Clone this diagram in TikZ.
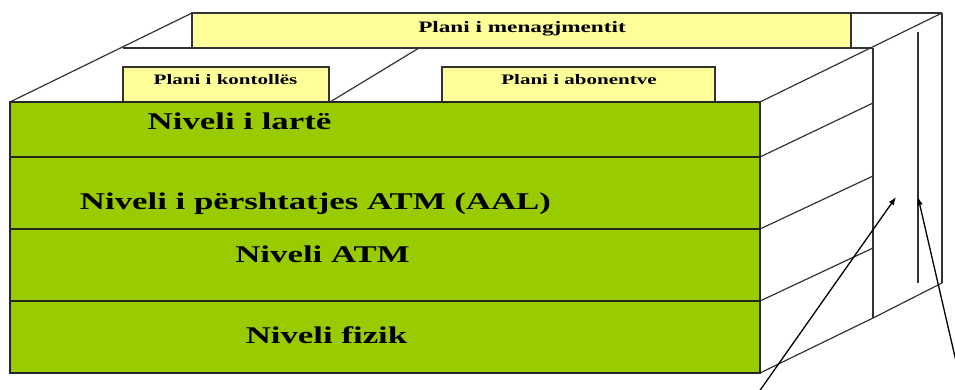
\documentclass[tikz,border=0pt]{standalone}
\usepackage{fontspec}
\setmainfont{Liberation Serif}
\usetikzlibrary{arrows.meta}

\definecolor{layergreen}{HTML}{99CC00}
\definecolor{planyellow}{HTML}{FFFF99}
\definecolor{edgegray}{HTML}{333333}

\tikzset{
  edge/.style={draw=edgegray, line width=1.2pt},
  planbox/.style={fill=planyellow, draw=edgegray, line width=1.2pt},
  layerbox/.style={fill=layergreen, draw=black!85, line width=1.4pt},
  bigtext/.style={anchor=base, inner sep=0pt, font=\bfseries\fontsize{24}{24}\selectfont},
  smalltext/.style={anchor=base, inner sep=0pt, font=\bfseries\fontsize{14.5}{15}\selectfont},
  pointer/.style={draw=black, line width=1.3pt, -{Latex[length=8pt,width=6pt]}}
}
\newcommand{\wide}[1]{\scalebox{1.45}[1]{#1}}

\begin{document}
\begin{tikzpicture}[x=1pt,y=-1pt]
\useasboundingbox (0,0) rectangle (955,389);
\clip (0,0) rectangle (955,389);

% management plane, back row
\fill[planyellow] (192,13) rectangle (851,48);
\draw[edge] (192,48) -- (192,13) -- (942,13);
\draw[edge] (851,13) -- (851,48);
\draw[edge] (123,48) -- (872,48);
\node[smalltext, font=\bfseries\fontsize{16}{16}\selectfont] (mgmt) at (522,32) {\wide{Plani i menagjmentit}};

% control and user planes, front row
\draw[planbox] (123,102) rectangle (329,67);
\node[smalltext] (ctrl) at (225.5,84) {\wide{Plani i kontollës}};
\draw[planbox] (442,102) rectangle (715,67);
\node[smalltext] (user) at (579,84) {\wide{Plani i abonentve}};

% top face diagonals
\draw[edge] (10,102) -- (192,13);
\draw[edge] (330,102) -- (419,48);
\draw[edge] (760,102) -- (942,13);

% right side face
\draw[edge] (873,48) -- (873,318);
\draw[edge] (942,13) -- (942,283);
\draw[edge] (918,32) -- (918,283);
\draw[edge] (760,157) -- (873,103);
\draw[edge] (760,229) -- (873,176);
\draw[edge] (760,301) -- (873,248);
\draw[edge] (760,373) -- (873,318) -- (942,283);

% front face: the four layers
\draw[layerbox] (10,102) rectangle (760,157);
\draw[layerbox] (10,157) rectangle (760,229);
\draw[layerbox] (10,229) rectangle (760,301);
\draw[layerbox] (10,301) rectangle (760,373);

\node[bigtext] (upper) at (239.5,129) {\wide{Niveli i lartë}};
\node[bigtext] (aal)   at (315.5,209) {\wide{Niveli i përshtatjes ATM (AAL)}};
\node[bigtext] (atm)   at (322.5,262) {\wide{Niveli ATM}};
\node[bigtext] (phy)   at (326.5,343) {\wide{Niveli fizik}};

% pointers into the side face
\coordinate (p1s) at (752.5,401);
\coordinate (p1e) at (896,197);
\coordinate (p2s) at (964.5,398);
\coordinate (p2e) at (918,197);
\draw[pointer] (p1s) -- (p1e);
\draw[pointer] (p2s) -- (p2e);
\end{tikzpicture}
\end{document}
